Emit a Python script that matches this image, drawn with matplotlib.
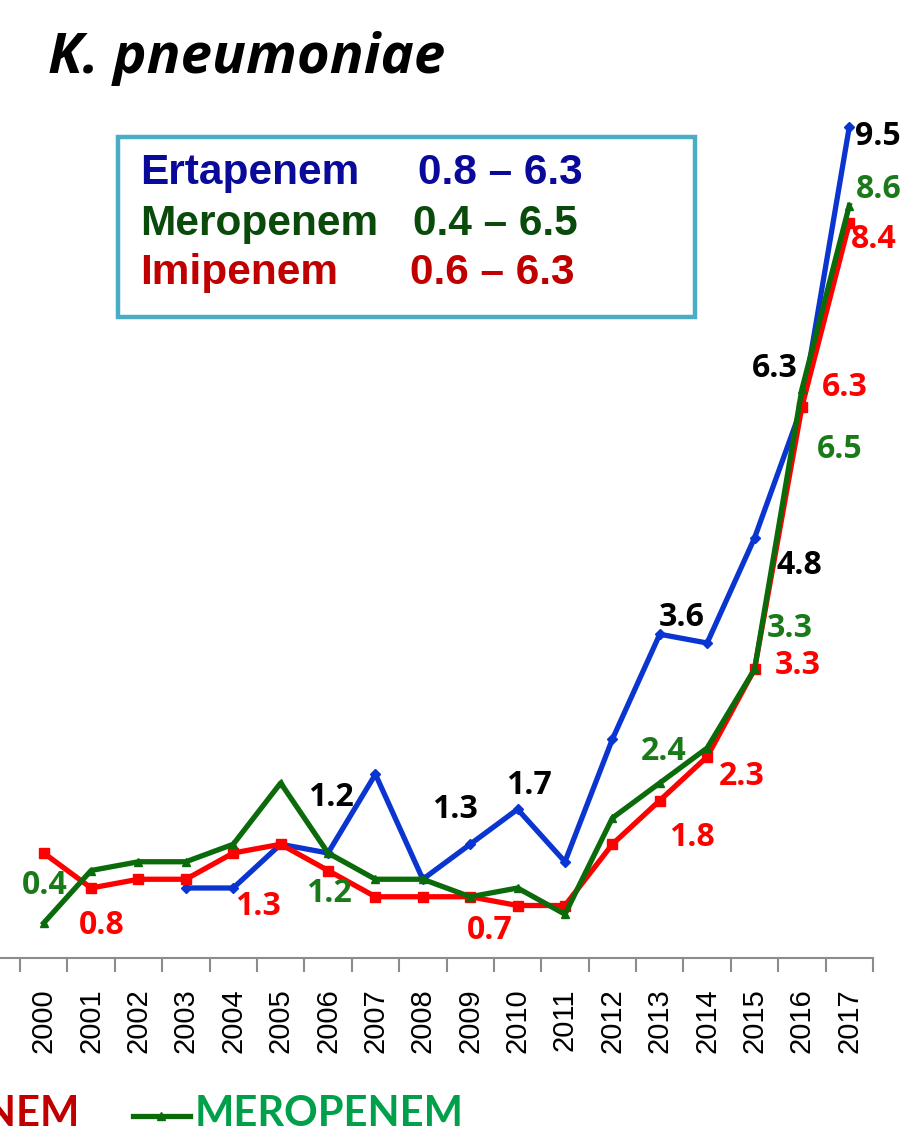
import matplotlib
matplotlib.use("Agg")
import matplotlib.pyplot as plt
from matplotlib.patches import Rectangle
from matplotlib.lines import Line2D
import numpy as np

# data
years = list(range(2000, 2018))
ertapenem = [None, None, None, 0.8, 0.8, 1.3, 1.2, 2.1, 0.9, 1.3, 1.7, 1.1, 2.5, 3.7, 3.6, 4.8, 6.3, 9.5]
imipenem = [1.2, 0.8, 0.9, 0.9, 1.2, 1.3, 1.0, 0.7, 0.7, 0.7, 0.6, 0.6, 1.3, 1.8, 2.3, 3.3, 6.3, 8.4]
meropenem = [0.4, 1.0, 1.1, 1.1, 1.3, 2.0, 1.2, 0.9, 0.9, 0.7, 0.8, 0.5, 1.6, 2.0, 2.4, 3.3, 6.5, 8.6]

# which points carry a value label, and the label offset in pixels
erta_labels = {2006: (3, 55), 2009: (-15, 35), 2010: (11, 24), 2014: (-25, 25),
               2015: (45, -28), 2016: (-27, 38), 2017: (29, -10)}
imi_labels = {2001: (11, -38), 2005: (-23, -62), 2009: (20, -34), 2013: (32, -37),
              2014: (35, -20), 2015: (43, 4), 2016: (43, 19), 2017: (24, -16)}
mero_labels = {2000: (1, 38), 2006: (1, -40), 2014: (-43, -4), 2015: (35, 41),
               2016: (38, -60), 2017: (29, 16)}

drugs = ["Ertapenem", "Meropenem", "Imipenem"]
ranges = ["0.8 \u2013 6.3", "0.4 \u2013 6.5", "0.6 \u2013 6.3"]

W, H = 908, 1134
fig = plt.figure(figsize=(W / 100, H / 100), dpi=100)

def fx(x):
    return x / W

def fy(y):
    return 1 - y / H

step = 47.35
ax = fig.add_axes([0, fy(958), fx(873), (958 - 100) / H])
ax.set_xlim(-0.5 - 20 / step, 17.5)
ax.set_ylim(0, (958 - 100) / 87.5)
for s in ["top", "right", "left"]:
    ax.spines[s].set_visible(False)
ax.spines["bottom"].set_color("#8c8c8c")
ax.spines["bottom"].set_linewidth(1.5)
ax.set_yticks([])

x = np.arange(len(years))
ax.set_xticks(x)
ax.set_xticklabels([str(y) for y in years], rotation=90, fontsize=21,
                   family="Liberation Sans", va="top")
ax.tick_params(axis="x", which="major", length=0, pad=22)
ax.set_xticks(np.arange(-0.5, 17.6, 1), minor=True)
ax.tick_params(axis="x", which="minor", length=10, width=1.5, color="#8c8c8c")

def series(vals):
    xs = [i for i, v in enumerate(vals) if v is not None]
    return xs, [vals[i] for i in xs]

xe, ye = series(ertapenem)
ax.plot(xe, ye, color="#0a35d0", lw=3.8, marker="D", ms=5, clip_on=False, zorder=3)
xi, yi = series(imipenem)
ax.plot(xi, yi, color="#ff0000", lw=3.8, marker="s", ms=7, clip_on=False, zorder=4)
xm, ym = series(meropenem)
ax.plot(xm, ym, color="#0b6b0b", lw=3.8, marker="^", ms=6, clip_on=False, zorder=5)

def add_labels(vals, labels, color):
    for yr, (dx, dy) in labels.items():
        i = years.index(yr)
        ax.annotate(f"{vals[i]:.1f}", (i, vals[i]), xytext=(dx, dy),
                    textcoords="offset pixels", ha="center", va="center",
                    fontsize=23, fontweight="bold", family="Open Sans",
                    color=color, annotation_clip=False, zorder=6)

add_labels(ertapenem, erta_labels, "black")
add_labels(imipenem, imi_labels, "#ff0000")
add_labels(meropenem, mero_labels, "#1a7a1a")

# title
fig.text(fx(48), fy(58), "K. pneumoniae", fontsize=40.5, fontweight="bold",
         fontstyle="italic", family="Open Sans", va="center", ha="left")

# range box
fig.add_artist(Rectangle((fx(118), fy(317)), fx(695) - fx(118), fy(137) - fy(317),
                         transform=fig.transFigure, facecolor="white",
                         edgecolor="#4bacc6", lw=3.2))
box_colors = ["#0a0a9a", "#0a4a0a", "#c00000"]
name_y = [173, 224, 273]
range_x = [418, 413, 410]
for d, r, c, yy, rx in zip(drugs, ranges, box_colors, name_y, range_x):
    fig.text(fx(140), fy(yy), d, fontsize=30.5, fontweight="bold",
             family="Liberation Sans", color=c, va="center", ha="left")
    fig.text(fx(rx), fy(yy), r, fontsize=30.5, fontweight="bold",
             family="Liberation Sans", color=c, va="center", ha="left")

# bottom legend (cut off at left)
fig.text(fx(80), fy(1114), "IMIPENEM", fontsize=30, fontweight="bold",
         family="Lato", color="#c00000", va="center", ha="right")
fig.add_artist(Line2D([fx(133), fx(190)], [fy(1116), fy(1116)], color="#0b6b0b",
                      lw=3.8, transform=fig.transFigure))
fig.add_artist(Line2D([fx(161)], [fy(1116)], color="#0b6b0b", marker="^", ms=6,
                      transform=fig.transFigure))
fig.text(fx(195), fy(1114), "MEROPENEM", fontsize=30, fontweight="bold",
         family="Lato", color="#00a04a", va="center", ha="left")

fig.savefig("out.png", dpi=100)
